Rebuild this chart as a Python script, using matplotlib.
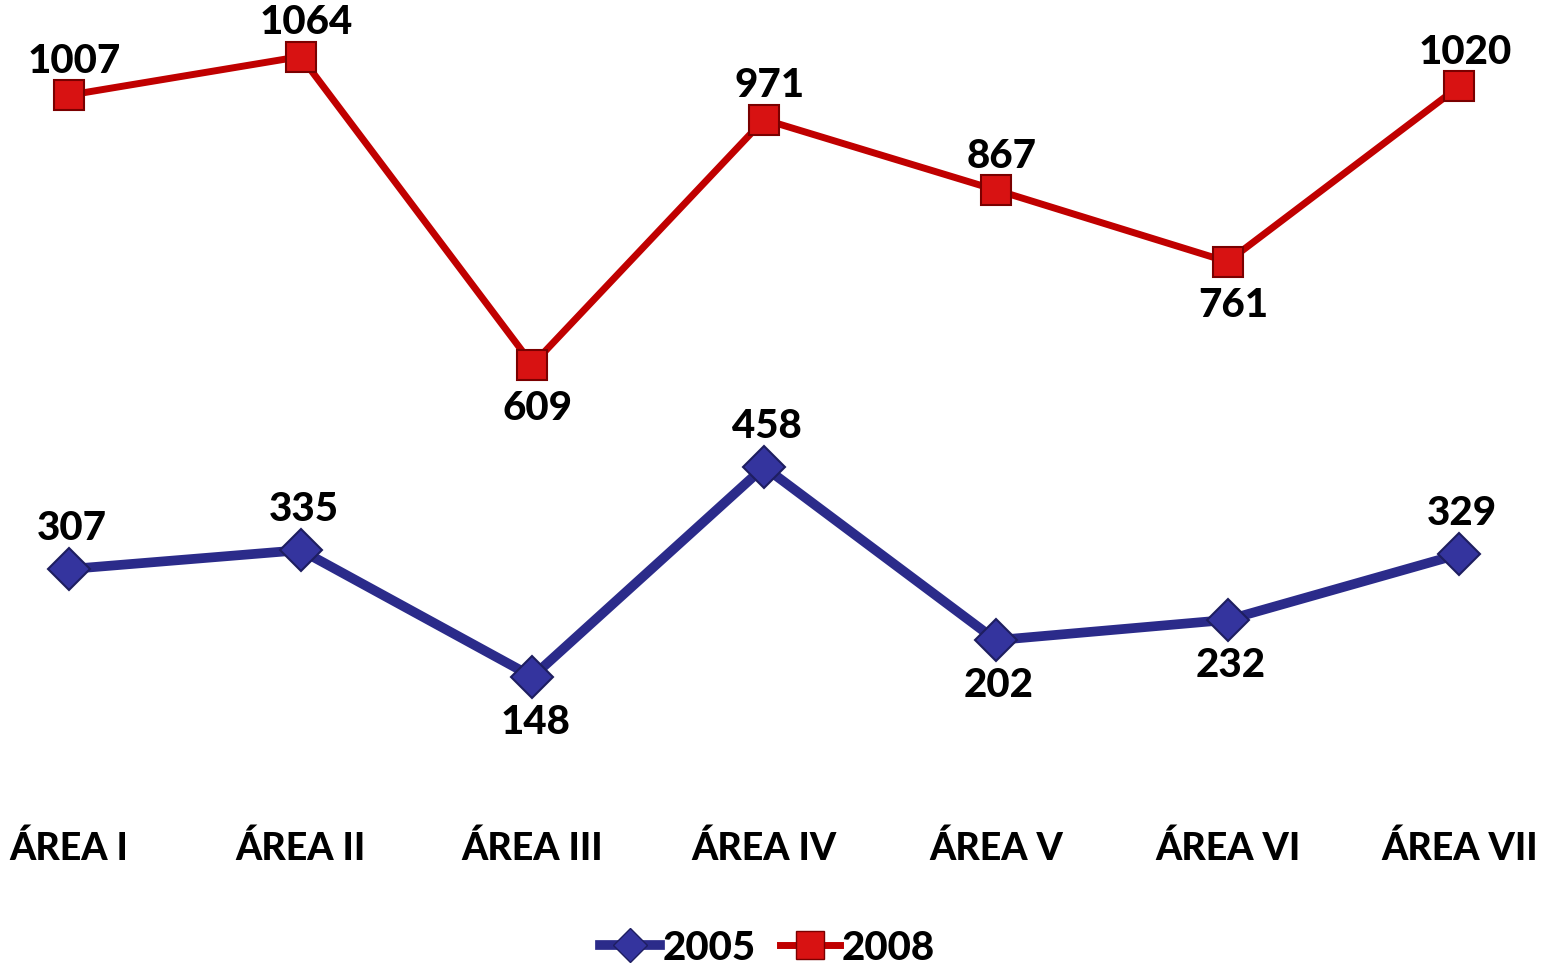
import matplotlib.pyplot as plt
from matplotlib.lines import Line2D

# dados
areas = ["ÁREA I", "ÁREA II", "ÁREA III", "ÁREA IV", "ÁREA V", "ÁREA VI", "ÁREA VII"]
v2005 = [307, 335, 148, 458, 202, 232, 329]
v2008 = [1007, 1064, 609, 971, 867, 761, 1020]
pos2005 = ["up", "up", "down", "up", "down", "down", "up"]
pos2008 = ["up", "up", "down", "up", "up", "down", "up"]

plt.rcParams['font.family'] = ['Lato', 'DejaVu Sans']

fig = plt.figure(figsize=(15.41, 9.70), dpi=100)
ax = fig.add_axes([0, 0.198, 1, 0.802])

x = list(range(len(areas)))
azul = "#2B2B8A"
verm = "#C00000"

ax.plot(x, v2005, color=azul, lw=7, marker="D", markersize=21,
        markerfacecolor="#34349E", markeredgecolor="#1E1E60", markeredgewidth=1.5,
        solid_capstyle="round", zorder=3)
ax.plot(x, v2008, color=verm, lw=5, marker="s", markersize=22,
        markerfacecolor="#D81212", markeredgecolor="#7A0000", markeredgewidth=1.5,
        zorder=3)

for xi, v, p in zip(x, v2005, pos2005):
    dy = 30 if p == "up" else -32
    ax.annotate(str(v), (xi, v), xytext=(2, dy), textcoords="offset points",
                ha="center", va="center", fontsize=29, fontweight="black")
for xi, v, p in zip(x, v2008, pos2008):
    dy = 25 if p == "up" else -31
    ax.annotate(str(v), (xi, v), xytext=(4, dy), textcoords="offset points",
                ha="center", va="center", fontsize=29, fontweight="black")

ax.set_xlim(-0.298, 6.353)
ax.set_ylim(0, 1149)
ax.set_xticks(x)
ax.set_xticklabels(areas, fontsize=27, fontweight="black")
ax.tick_params(axis="x", length=0, pad=38)
ax.set_yticks([])
for s in ax.spines.values():
    s.set_visible(False)

h1 = Line2D([], [], color=azul, lw=7, marker="D", markersize=17,
            markerfacecolor="#34349E", markeredgecolor="#1E1E60")
h2 = Line2D([], [], color=verm, lw=5, marker="s", markersize=20,
            markerfacecolor="#D81212", markeredgecolor="#7A0000")
fig.legend([h1, h2], ["2005", "2008"], loc="center", bbox_to_anchor=(0.498, 0.022),
           ncol=2, frameon=False, handlelength=1.5,
           handletextpad=0.05, columnspacing=0.6, prop={"weight": "black", "size": 29})

fig.savefig("out.png", dpi=100)
